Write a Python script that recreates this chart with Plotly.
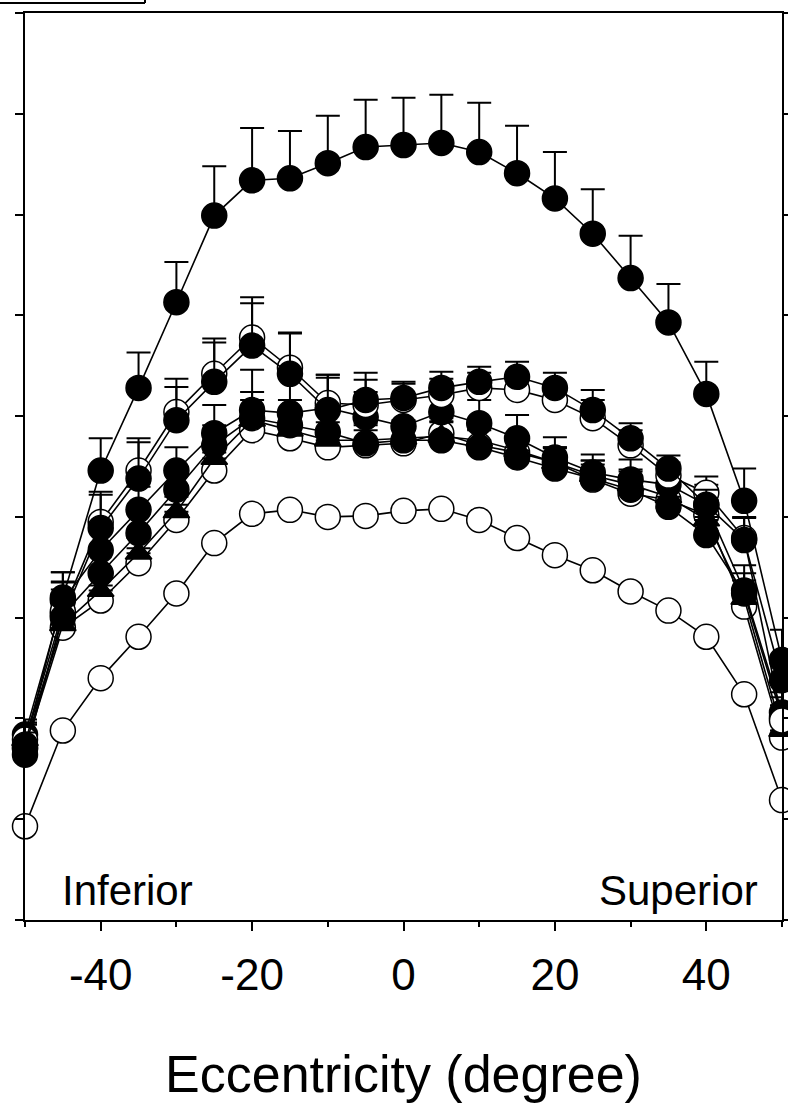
import plotly.graph_objects as go

ecc = [-50, -45, -40, -35, -30, -25, -20, -15, -10, -5, 0, 5, 10, 15, 20, 25, 30, 35, 40, 45, 50]

# Series values (arbitrary units)
s_top = [17.4, 32.0, 44.6, 52.8, 61.3, 69.9, 73.4, 73.6, 75.1, 76.7, 76.9, 77.1, 76.2, 74.1, 71.6, 68.1, 63.7, 59.3, 52.2, 41.6, 25.8]
s_top_err = [2.2, 2.5, 3.2, 3.5, 4.0, 4.9, 5.2, 4.7, 4.7, 4.7, 4.7, 4.8, 4.9, 4.7, 4.6, 4.4, 4.2, 3.8, 3.2, 3.2, 3.0]

s_b_open = [17.9, 30.6, 39.5, 44.6, 50.4, 54.2, 57.8, 54.8, 51.3, 51.1, 51.6, 52.1, 52.8, 52.6, 51.6, 49.8, 47.1, 44.1, 42.4, 37.9, 19.8]
s_b_err = [1.5, 3.0, 3.0, 3.2, 3.3, 3.5, 4.0, 3.5, 2.8, 2.5, 1.6, 1.6, 1.5, 1.5, 1.5, 1.8, 1.5, 1.3, 1.6, 2.0, 1.5]

s_c_fill = [17.1, 30.0, 38.9, 43.8, 49.6, 53.4, 57.0, 54.2, 50.6, 51.6, 51.8, 52.8, 53.4, 53.9, 52.8, 50.6, 47.8, 44.8, 41.2, 37.7, 23.8]
s_c_err = [1.5, 3.5, 3.3, 3.6, 3.3, 3.9, 4.2, 4.0, 3.5, 2.7, 1.6, 1.6, 1.5, 1.5, 1.5, 2.0, 1.5, 1.3, 1.5, 2.3, 1.5]

s_d_fill = [18.4, 31.7, 36.7, 40.7, 44.6, 48.3, 50.6, 50.3, 50.8, 49.9, 49.0, 50.4, 49.3, 47.8, 45.9, 44.4, 43.7, 43.2, 41.2, 32.7, 20.6]
s_d_err = [1.5, 2.8, 2.5, 2.3, 2.3, 2.8, 4.0, 3.5, 3.0, 2.5, 2.5, 2.5, 2.3, 2.3, 2.0, 1.8, 2.0, 2.0, 2.0, 2.5, 2.0]

s_e_fill = [16.4, 30.3, 34.4, 38.4, 42.7, 47.1, 49.8, 49.1, 48.4, 47.3, 47.6, 47.6, 46.9, 45.9, 44.8, 43.8, 42.7, 41.0, 38.2, 32.4, 20.1]
s_e_err = [1.5, 2.5, 2.0, 2.0, 2.0, 2.0, 2.6, 2.5, 2.2, 2.0, 2.0, 1.8, 1.8, 2.2, 2.0, 1.8, 1.8, 1.8, 1.8, 2.0, 2.0]

s_f_tri = [17.9, 29.3, 32.7, 36.4, 40.5, 45.8, 49.6, 48.6, 47.6, 47.6, 47.8, 48.0, 47.6, 46.6, 45.4, 44.1, 43.2, 42.0, 39.7, 31.9, 18.8]
s_f_err = [1.5, 1.8, 1.5, 1.5, 1.5, 1.8, 2.0, 2.0, 1.8, 1.5, 1.5, 1.5, 1.5, 1.5, 1.5, 1.5, 1.5, 1.5, 1.5, 1.8, 1.5]

s_h_open = [17.0, 29.0, 31.7, 35.4, 39.7, 44.6, 48.6, 47.8, 46.9, 47.1, 47.3, 48.3, 47.1, 46.4, 45.4, 43.7, 42.3, 41.7, 40.2, 31.1, 18.1]
s_h_err = [1.5, 1.8, 1.5, 1.5, 1.5, 1.8, 2.0, 2.0, 1.8, 1.5, 1.5, 1.5, 1.5, 1.5, 1.5, 1.5, 1.5, 1.5, 1.5, 1.8, 1.5]

s_low_open = [9.3, 18.8, 24.0, 28.1, 32.4, 37.4, 40.3, 40.7, 40.0, 40.1, 40.6, 40.8, 39.7, 37.9, 36.2, 34.7, 32.6, 30.7, 28.1, 22.4, 11.9]

x_ticks = [-40, -20, 0, 20, 40]
x_tick_text = ["-40", "-20", "0", "20", "40"]
x_title = "Eccentricity (degree)"
label_left = "Inferior"
label_right = "Superior"

FONT = "Liberation Sans, Arial, sans-serif"

fig = go.Figure()


def add(y, err, filled, symbol="circle", size=25):
    tr = dict(
        x=ecc, y=y, mode="lines+markers", cliponaxis=False, showlegend=False,
        line=dict(color="black", width=1.6),
        marker=dict(symbol=symbol, size=size,
                    color="black" if filled else "white",
                    line=dict(color="black", width=1.5)),
    )
    if err is not None:
        tr["error_y"] = dict(type="data", array=err, arrayminus=[0] * len(err),
                             symmetric=False, color="black", thickness=2, width=12)
    fig.add_trace(go.Scatter(**tr))


add(s_low_open, None, False)
add(s_h_open, s_h_err, False)
add(s_f_tri, s_f_err, True, symbol="triangle-up", size=23)
add(s_e_fill, s_e_err, True)
add(s_d_fill, s_d_err, True)
add(s_b_open, s_b_err, False)
add(s_c_fill, s_c_err, True)
add(s_top, s_top_err, True)

fig.update_layout(
    width=788, height=1107,
    margin=dict(l=25, r=6, t=13, b=187),
    paper_bgcolor="white", plot_bgcolor="white",
    font=dict(family=FONT, color="black"),
    hovermode=False,
    xaxis=dict(
        range=[-50, 50], tickmode="array", tickvals=x_ticks, ticktext=x_tick_text,
        automargin=False,
        ticks="outside", ticklen=9, tickwidth=2, tickcolor="black",
        ticklabelstandoff=6,
        showline=True, linecolor="black", linewidth=2, mirror=True,
        showgrid=False, zeroline=False,
        tickfont=dict(size=44, family=FONT),
        minor=dict(tickmode="array", tickvals=[-50, -30, -10, 10, 30, 50],
                   ticks="outside", ticklen=5, tickwidth=2, tickcolor="black", showgrid=False),
        title=dict(text=x_title, font=dict(size=52, family=FONT), standoff=58),
    ),
    yaxis=dict(
        range=[0, 90], dtick=10, tick0=0, automargin=False,
        ticks="outside", ticklen=8, tickwidth=2, tickcolor="black",
        showticklabels=False,
        showline=True, linecolor="black", linewidth=2, mirror="ticks",
        showgrid=False, zeroline=False,
    ),
    annotations=[
        dict(text=label_left, xref="paper", yref="paper", x=0.046, y=0.033,
             xanchor="left", yanchor="middle", showarrow=False,
             font=dict(size=42, family=FONT)),
        dict(text=label_right, xref="paper", yref="paper", x=0.971, y=0.033,
             xanchor="right", yanchor="middle", showarrow=False,
             font=dict(size=42, family=FONT)),
    ],
    shapes=[
        dict(type="line", xref="paper", yref="paper", x0=-0.04, x1=0.1585, y0=1.011, y1=1.011,
             line=dict(color="black", width=2)),
        dict(type="line", xref="paper", yref="paper", x0=0.1585, x1=0.1585, y0=1.011, y1=1.02,
             line=dict(color="black", width=2)),
    ],
)

fig.write_html("out.html", config={"displayModeBar": False},
               post_script="document.body.style.margin='0';document.body.style.overflow='hidden';")
